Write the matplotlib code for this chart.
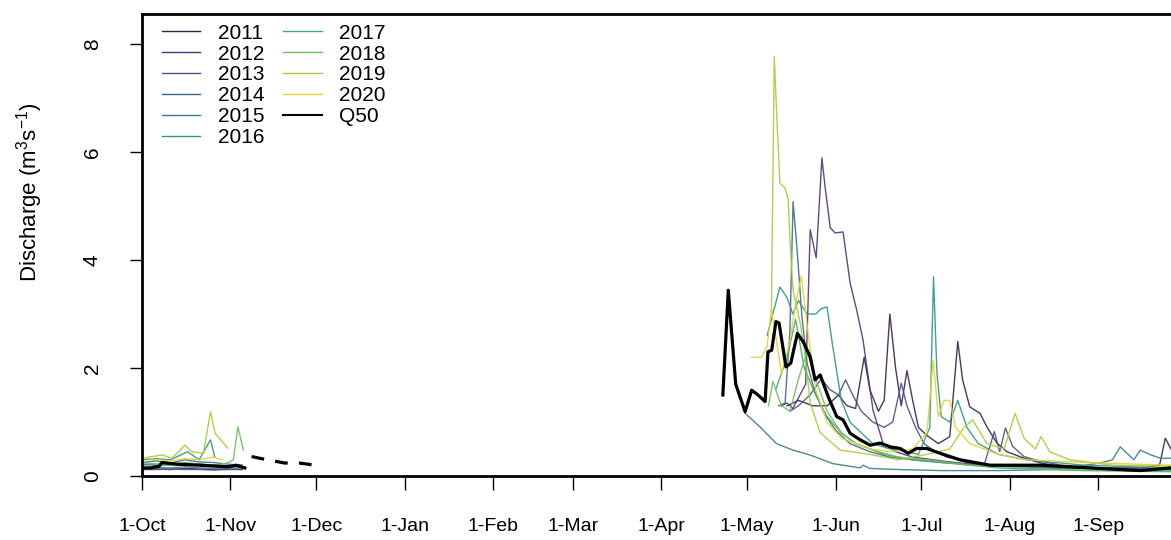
import numpy as np
import matplotlib
matplotlib.use("Agg")
import matplotlib.pyplot as plt
from matplotlib.lines import Line2D
from matplotlib.colors import to_rgb

plt.rcParams["font.family"] = ["Liberation Sans", "DejaVu Sans"]
plt.rcParams["mathtext.fontset"] = "custom"
plt.rcParams["mathtext.rm"] = "Liberation Sans"
plt.rcParams["mathtext.it"] = "Liberation Sans"

nan = np.nan

# Water-year axis: days counted from 1 October
month_days = [0, 31, 61, 92, 123, 151, 182, 212, 243, 273, 304, 335]
month_labels = ["1-Oct", "1-Nov", "1-Dec", "1-Jan", "1-Feb", "1-Mar",
                "1-Apr", "1-May", "1-Jun", "1-Jul", "1-Aug", "1-Sep"]

years = [2011, 2012, 2013, 2014, 2015, 2016, 2017, 2018, 2019, 2020]
year_colors = ["#2E0F40", "#482878", "#3E4A89", "#31688E", "#26828E",
               "#1F9E89", "#35B779", "#6DCD59", "#B4DE2C", "#FDE725"]

# Daily discharge (m3/s); autumn record, gap over winter, spring-summer record
day_2011 = [0, 5, 10, 15, 20, 25, 30, 35, nan,
            226, 230, 235, 240, 244, 247, 250, 253, 255, 258,
            260, 262, 264, 266, 268, 270, 272, 275, 279, 283, 285.8, 287.5, 290,
            293.6, 296, 299.5, 303, 309, 315, 322, 330, 340, 350, 356.5, 358.5, 360.5]
flow_2011 = [0.12, 0.13, 0.12, 0.14, 0.13, 0.12, 0.13, 0.12, nan,
             1.3, 1.4, 1.3, 1.3, 1.5, 1.3, 1.25, 2.2, 1.6, 1.2,
             1.4, 3.0, 2.0, 1.3, 1.95, 1.4, 0.9, 0.75, 0.6, 0.73, 2.49, 1.78, 1.28,
             1.16, 0.91, 0.61, 0.45, 0.33, 0.24, 0.17, 0.15, 0.15, 0.15, 0.2, 0.7, 0.5]

day_2012 = [0, 5, 10, 15, 20, 25, 30, 35, nan,
            224, 226, 228, 230, 232.5, 234.1, 236.2, 238.2, 239.3, 241.1,
            242.8, 245.6, 248.1, 250.4, 252.6, 256.1, 259.6, 264, 270, 280, 290,
            300, 315, 330, 345, 360.5]
flow_2012 = [0.22, 0.2, 0.21, 0.2, 0.22, 0.2, 0.19, 0.2, nan,
             1.3, 1.35, 1.25, 1.45, 1.7, 4.56, 4.04, 5.89, 5.36, 4.6,
             4.5, 4.52, 3.57, 3.07, 2.52, 1.22, 0.61, 0.45, 0.35, 0.28, 0.22,
             0.2, 0.15, 0.14, 0.13, 0.12]

day_2013 = [0, 5, 10, 15, 20, 25, 30, 35, nan,
            227, 230, 234, 238, 241, 244, 246.5, 249, 252, 256,
            260, 263, 266, 268, 271, 274, 278, 282, 286, 290, 295, 298.6, 300.5,
            302.5, 305, 309, 315, 322, 335, 348, 360.5]
flow_2013 = [0.12, 0.12, 0.13, 0.12, 0.12, 0.11, 0.12, 0.12, nan,
             1.2, 1.3, 1.5, 1.8, 1.6, 1.5, 1.78, 1.5, 1.2, 1.0,
             0.9, 1.0, 1.72, 1.3, 0.9, 0.6, 0.45, 0.35, 0.3, 0.23, 0.2, 0.82, 0.45,
             0.89, 0.55, 0.36, 0.27, 0.2, 0.15, 0.12, 0.1]

day_2014 = [0, 5, 10, 15, 20, 25, 30, 35, nan,
            223, 225.3, 227, 228.1, 229.5, 231.2, 233, 235.5, 239, 243,
            248, 255, 262, 270, 280, 295, 310, 330, 360.5]
flow_2014 = [0.25, 0.28, 0.24, 0.3, 0.26, 0.25, 0.22, 0.2, nan,
             1.3, 1.35, 2.7, 5.08, 4.19, 2.95, 2.09, 1.59, 1.16, 0.85,
             0.6, 0.45, 0.35, 0.3, 0.25, 0.2, 0.17, 0.14, 0.12]

day_2015 = [0, 5, 10, 15, 20, 25, 30, 35, nan,
            211.3, 216.5, 222.3, 228, 234, 242, 251.6, 252.7, 255, 265, 280, 300,
            320, 335.7, 340, 342.7, 347.5, 349.7, 353, 356.7, 360.5]
flow_2015 = [0.15, 0.16, 0.15, 0.17, 0.15, 0.14, 0.15, 0.15, nan,
             1.16, 0.91, 0.6, 0.48, 0.39, 0.23, 0.15, 0.2, 0.14, 0.12, 0.1, 0.1,
             0.12, 0.24, 0.3, 0.54, 0.3, 0.48, 0.4, 0.33, 0.33]

day_2016 = [0, 5, 10, 16, 20, 24, 25.5, nan,
            219, 221, 223.5, 226, 228, 230, 233, 236, 238, 240, 242, 245, 248,
            252, 256, 262, 268, 272, 276, 277.3, 278.5, 280, 283, 285.8, 289, 293,
            300, 310, 330, 360.5]
flow_2016 = [0.3, 0.32, 0.3, 0.45, 0.3, 0.67, 0.35, nan,
             2.6, 3.0, 3.5, 3.3, 3.0, 3.25, 3.0, 3.0, 3.1, 3.13, 2.4, 1.4, 1.0,
             0.8, 0.6, 0.5, 0.45, 0.4, 0.9, 3.69, 1.9, 1.1, 1.0, 1.4, 0.9, 0.6,
             0.4, 0.3, 0.2, 0.15]

day_2017 = [0, 5, 10, 15, 20, 25, 30, 35, nan,
            222, 226, 229, 232, 236, 240, 245, 250, 260, 270, 280, 300, 330, 360.5]
flow_2017 = [0.2, 0.22, 0.2, 0.25, 0.22, 0.2, 0.18, 0.18, nan,
             1.6, 2.2, 2.9, 2.0, 1.5, 1.1, 0.8, 0.6, 0.4, 0.3, 0.25, 0.15, 0.1, 0.08]

day_2018 = [0, 5, 10, 15, 20, 25, 30, 32, 33.6, 35.5, nan,
            219.5, 221, 224, 227, 230, 233, 236, 240, 245, 250, 258, 265, 275,
            290, 320, 360.5]
flow_2018 = [0.25, 0.22, 0.24, 0.2, 0.22, 0.2, 0.24, 0.3, 0.91, 0.48, nan,
             1.3, 1.75, 1.3, 1.2, 1.8, 2.3, 1.8, 1.2, 0.8, 0.6, 0.45, 0.35, 0.3,
             0.2, 0.12, 0.1]

day_2019 = [0, 7, 10.5, 15, 17.5, 21.5, 24, 25.6, 30, nan,
            220.5, 221.5, 222.5, 223.5, 225.3, 226.4, 227, 228.1, 230.6, 232.4,
            234.1, 237.6, 244.6, 255, 265, 275, 283, 288, 291, 296, 302, 305.9, 309,
            313, 315, 318, 325, 340, 360.5]
flow_2019 = [0.33, 0.39, 0.33, 0.57, 0.45, 0.42, 1.19, 0.79, 0.52, nan,
             3.0, 7.77, 6.53, 5.42, 5.33, 5.11, 4.37, 3.44, 2.83, 2.2,
             1.35, 0.8, 0.48, 0.4, 0.3, 0.4, 0.5, 0.9, 1.04, 0.6, 0.5, 1.16, 0.7,
             0.5, 0.73, 0.45, 0.3, 0.2, 0.18]

day_2020 = [0, 5, 10, 15, 20, 25, 28, nan,
            213.5, 217, 219, 220.5, 222, 224, 227, 229, 231, 233, 236, 240, 245,
            250, 255, 262, 270, 275, 277.2, 279, 281, 283, 285, 290, 300, 310, 330, 360.5]
flow_2020 = [0.35, 0.3, 0.28, 0.32, 0.3, 0.35, 0.3, nan,
             2.2, 2.2, 2.4, 3.1, 2.6, 1.9, 2.5, 3.2, 3.7, 2.8, 1.6, 1.0, 0.7,
             0.6, 0.5, 0.45, 0.5, 0.8, 2.15, 1.1, 1.4, 1.4, 0.9, 0.6, 0.4, 0.3, 0.25, 0.2]

# Median (Q50) discharge
q50_day = [0, 3, 6, 7, 12, 20, 27, 30, 33, 36, nan,
           203.5, 205.4, 208, 211.3, 213.6, 215.8, 218.3, 219.3, 220.6, 222.1, 223.2,
           225.6, 227.3, 229.6, 231.6, 234.1, 235.8, 237.6, 240.4, 243.4, 245.6,
           248.1, 251.6, 255.1, 258.6, 262.1, 265.6, 268.4, 271.4, 274.9, 279.6,
           283.1, 286.6, 297.1, 314.6, 332.2, 349.7, 360.5]
q50_flow = [0.15, 0.15, 0.18, 0.25, 0.22, 0.2, 0.18, 0.17, 0.2, 0.15, nan,
            1.5, 3.44, 1.7, 1.19, 1.59, 1.5, 1.38, 2.3, 2.33, 2.86, 2.83,
            2.02, 2.09, 2.64, 2.49, 2.21, 1.78, 1.87, 1.47, 1.10, 1.04,
            0.79, 0.67, 0.57, 0.61, 0.54, 0.51, 0.42, 0.51, 0.51, 0.42,
            0.36, 0.3, 0.2, 0.2, 0.15, 0.1, 0.15]
# Q50 over the period with incomplete records
q50_gap_day = [38.4, 42, 46, 50, 55, 58, 60.2]
q50_gap_flow = [0.36, 0.32, 0.28, 0.24, 0.24, 0.22, 0.2]

year_days = [day_2011, day_2012, day_2013, day_2014, day_2015,
             day_2016, day_2017, day_2018, day_2019, day_2020]
year_flows = [flow_2011, flow_2012, flow_2013, flow_2014, flow_2015,
              flow_2016, flow_2017, flow_2018, flow_2019, flow_2020]


def muted(c, k=0.18):
    r, g, b = to_rgb(c)
    return (r * (1 - k) + 0.45 * k, g * (1 - k) + 0.45 * k, b * (1 - k) + 0.45 * k)


line_colors = [muted(c) for c in year_colors]

W, H = 1171, 540
fig = plt.figure(figsize=(W / 100, H / 100), dpi=100)
ax = fig.add_axes([142 / W, 1 - 476 / H, 1 - 142 / W, (476 - 14) / H])

for d, q, c in zip(year_days, year_flows, line_colors):
    ax.plot(d, q, color=c, lw=1.0, alpha=0.9)

ax.plot(q50_day, q50_flow, color="black", lw=2.3)
ax.plot(q50_gap_day, q50_gap_flow, color="black", lw=2.3, dashes=(4, 3.5))

ax.set_xlim(0, 360.5)
ax.set_ylim(0, (476 - 14) / 54)

for side in ["top", "left", "bottom"]:
    ax.spines[side].set_linewidth(2.0)
ax.spines["right"].set_visible(False)

ax.set_xticks(month_days)
ax.set_xticklabels(month_labels, fontsize=14)
ax.set_yticks([0, 2, 4, 6, 8])
ax.set_yticklabels(["0", "2", "4", "6", "8"], fontsize=15, rotation=90, va="center")
ax.tick_params(axis="x", length=10, width=1.0, pad=20)
ax.tick_params(axis="y", length=9, width=1.0, pad=20)

fig.text(30 / W, 1 - 192 / H, r"Discharge (m$^{3}$s$^{-1}$)", rotation=90,
         ha="center", va="center", fontsize=16)

handles = [Line2D([], [], color=c, lw=1.0) for c in line_colors]
handles.append(Line2D([], [], color="black", lw=1.5))
labels = [str(y) for y in years] + ["Q50"]
ax.legend(handles, labels, loc="upper left", ncol=2, frameon=False,
          fontsize=15, handlelength=1.85, handletextpad=0.85, columnspacing=0.9,
          labelspacing=0.09, borderaxespad=0.0, bbox_to_anchor=(0.011, 0.997))

fig.savefig("out.png", dpi=100)
